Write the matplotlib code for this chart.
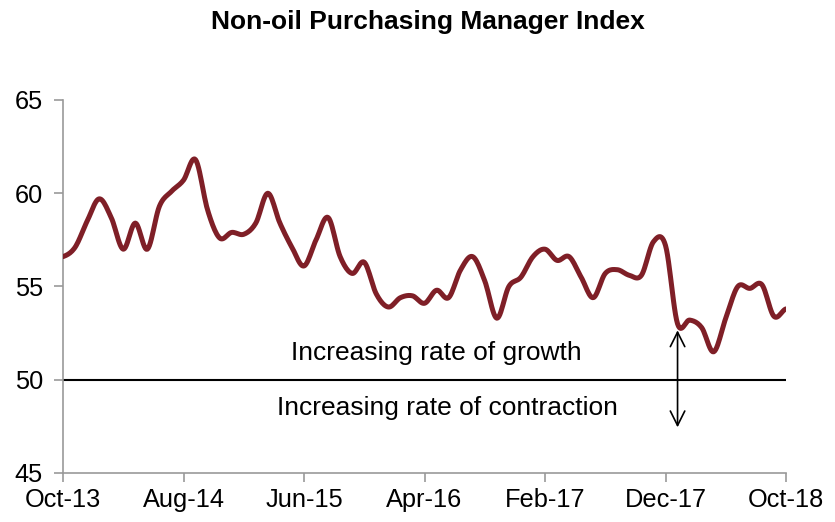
import numpy as np
import matplotlib
matplotlib.use('Agg')
from matplotlib import pyplot as plt

plt.rcParams['font.family'] = ['Liberation Sans', 'DejaVu Sans']

# monthly non-oil PMI, Oct-13 .. Oct-18
pmi = [56.6, 57.1, 58.5, 59.7, 58.7, 57.0, 58.4, 57.0, 59.3, 60.1,
       60.7, 61.8, 59.1, 57.6, 57.9, 57.8, 58.4, 60.0, 58.4, 57.1,
       56.1, 57.5, 58.7, 56.6, 55.7, 56.3, 54.6, 53.9, 54.4, 54.5,
       54.1, 54.8, 54.4, 55.9, 56.6, 55.3, 53.3, 55.0, 55.5, 56.6,
       57.0, 56.4, 56.6, 55.5, 54.4, 55.7, 55.9, 55.6, 55.6, 57.4,
       57.2, 53.0, 53.2, 52.8, 51.5, 53.3, 55.0, 54.9, 55.1, 53.4,
       53.8]
tick_labels = ['Oct-13', 'Aug-14', 'Jun-15', 'Apr-16', 'Feb-17', 'Dec-17', 'Oct-18']


def smooth(y, n=12):
    # catmull-rom curve through the points (like excel's smoothed line)
    y = np.asarray(y, float)
    p = np.concatenate([[y[0]], y, [y[-1]]])
    xs, ys = [], []
    t = np.linspace(0, 1, n, endpoint=False)
    for i in range(len(y) - 1):
        p0, p1, p2, p3 = p[i], p[i + 1], p[i + 2], p[i + 3]
        yy = 0.5 * ((2 * p1) + (-p0 + p2) * t + (2 * p0 - 5 * p1 + 4 * p2 - p3) * t ** 2
                    + (-p0 + 3 * p1 - 3 * p2 + p3) * t ** 3)
        xs.append(i + t)
        ys.append(yy)
    xs.append([len(y) - 1])
    ys.append([y[-1]])
    return np.concatenate(xs), np.concatenate(ys)


fig = plt.figure(figsize=(8.35, 5.22), dpi=100)
ax = fig.add_axes([63 / 835, 1 - 473 / 522, (786 - 63) / 835, (473 - 100) / 522])

sx, sy = smooth(pmi)
ax.plot(sx, sy, color='#7f1f27', lw=3.6, solid_capstyle='round', zorder=3)

ax.plot([0, len(pmi) - 1], [50, 50], color='black', lw=1.5, zorder=2)
ax.annotate('', xy=(51, 52.8), xytext=(51, 47.3),
            arrowprops=dict(arrowstyle='<->', color='black', lw=1.2,
                            mutation_scale=26))
ax.text(31, 51.45, 'Increasing rate of growth', fontsize=19, ha='center', va='center')
ax.text(31.9, 48.5, 'Increasing rate of contraction', fontsize=19, ha='center', va='center')

ax.set_xlim(0, len(pmi) - 1)
ax.set_ylim(45, 65)
ax.set_yticks([45, 50, 55, 60, 65])
ax.set_xticks(range(0, len(pmi), 10))
ax.set_xticklabels(tick_labels)
for s in ['top', 'right']:
    ax.spines[s].set_visible(False)
for s in ['left', 'bottom']:
    ax.spines[s].set_color('#999999')
    ax.spines[s].set_linewidth(1.2)
ax.tick_params(axis='both', colors='#999999', labelcolor='black', labelsize=18.3,
               length=6.5, width=1.2, direction='out')
ax.tick_params(axis='y', pad=8)
ax.tick_params(axis='x', pad=4)

fig.text(0.513, 0.957, 'Non-oil Purchasing Manager Index', fontsize=19,
         fontweight='bold', ha='center', va='center')

fig.savefig('out.png', dpi=100)
